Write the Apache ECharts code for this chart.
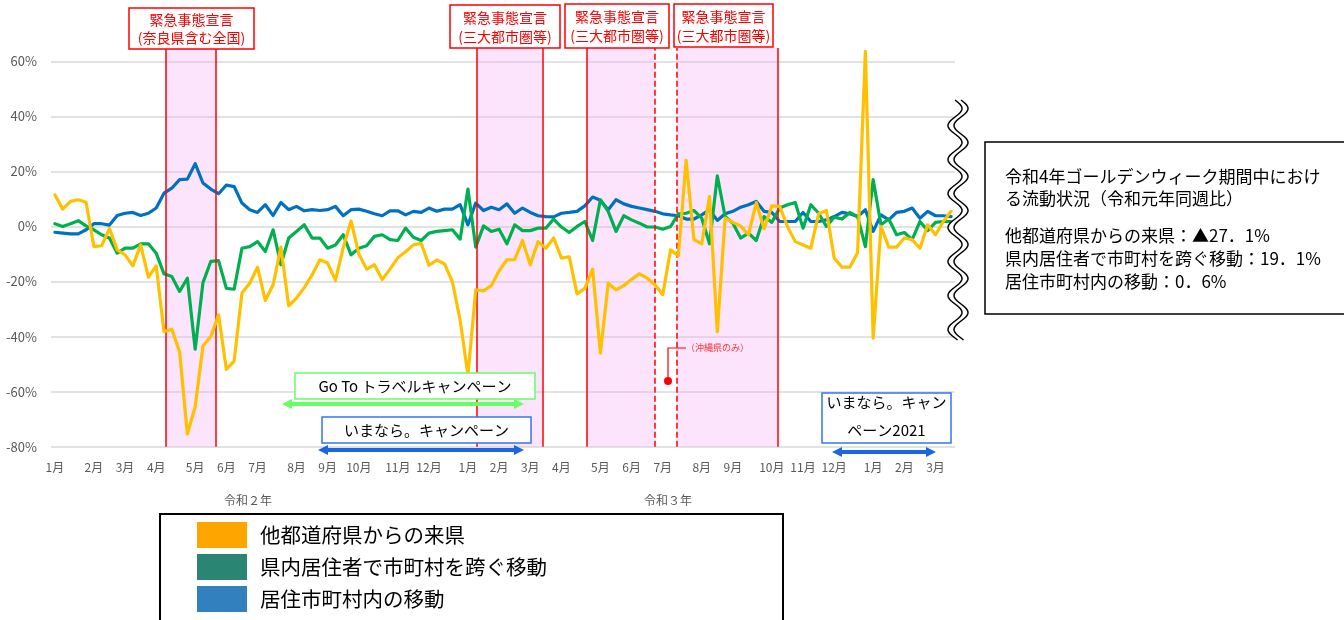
<!DOCTYPE html>
<html>
<head>
<meta charset="utf-8">
<script src="https://cdn.jsdelivr.net/npm/echarts@6/dist/echarts.min.js"></script>
<style>
  html, body { margin: 0; padding: 0; background: #fff; }
  #chart { width: 1344px; height: 620px; }
</style>
</head>
<body>
<div id="chart"></div>
<script>
const FONT = '"Noto Sans CJK JP", "Noto Sans", sans-serif';

// Weekly change against the same week of 2019 (%), Jan 2020 – Mar 2022
const fromOtherPrefs = [
  11.5, 6.3, 9.1, 9.7, 8.8, -7.3, -7.0, -0.8, -8.5, -10.3,
  -14.3, -6.7, -18.4, -14.3, -38.2, -37.3, -45.5, -75.4, -65.5, -43.4,
  -40.0, -32.1, -51.9, -48.9, -24.2, -20.6, -14.8, -26.9, -21.2, -7.5,
  -28.8, -26.0, -22.2, -17.6, -12.1, -13.3, -19.6, -7.6, 2.0, -10.0,
  -15.5, -13.9, -19.3, -15.5, -11.4, -9.2, -6.7, -6.1, -14.1, -12.2,
  -13.6, -20.0, -34.0, -54.0, -23.0, -23.4, -21.5, -16.1, -12.1, -12.0,
  -5.1, -13.9, -5.5, -7.9, -4.2, -11.5, -11.0, -24.5, -22.5, -15.5,
  -46.0, -20.6, -23.0, -21.5, -19.2, -17.2, -18.8, -21.2, -24.8, -8.5,
  -10.7, 24.0, -4.8, -6.3, 10.9, -38.2, 3.0, 1.5, 0.2, -3.0,
  8.7, -0.8, 7.5, 7.3, 0.0, -5.5, -6.7, -7.9, 4.6, 5.8,
  -11.5, -14.8, -14.8, -9.5, 63.6, -40.6, 0.0, -7.5, -7.5, -4.2,
  -4.8, -7.9, 0.6, -3.0, 1.8, 5.5
];
const acrossMunicipalities = [
  1.0, 0.0, 1.0, 2.1, 0.2, -1.2, -3.0, -4.2, -9.7, -7.9,
  -7.9, -6.3, -6.3, -9.7, -17.2, -18.2, -23.6, -18.8, -44.6, -20.4,
  -12.7, -12.4, -22.5, -22.8, -7.9, -7.3, -5.5, -9.1, -1.2, -13.9,
  -4.2, -1.8, 0.6, -4.2, -4.2, -7.9, -6.7, -3.0, -10.3, -7.9,
  -7.0, -3.6, -3.0, -4.8, -5.1, -0.6, -3.9, -5.1, -2.4, -1.8,
  -1.5, -1.2, -4.6, 13.6, -7.5, 0.2, -1.8, -1.0, -6.3, 0.6,
  -1.5, -1.5, -0.6, -0.6, 2.7, -0.2, -2.2, 0.0, 1.8, -5.1,
  9.7, 5.5, -1.8, 3.9, 2.4, 1.2, -0.2, -0.2, -1.0, 0.0,
  4.6, 4.8, 5.8, 3.0, -6.3, 18.4, 3.6, 1.2, -4.2, -2.4,
  -5.1, 3.6, 1.5, 6.7, 7.9, 8.7, -0.6, 7.9, 4.8, 0.0,
  3.4, 2.7, 5.1, 3.6, -7.3, 17.0, 0.6, 2.7, -3.0, -2.2,
  -4.8, 1.8, -1.5, 1.5, 1.8, 1.8
];
const withinMunicipality = [
  -2.1, -2.4, -2.7, -2.7, -1.2, 1.0, 1.0, 0.5, 4.0, 4.8,
  5.1, 4.0, 4.8, 6.7, 12.1, 13.9, 17.0, 17.2, 22.8, 15.8,
  13.6, 11.9, 15.0, 14.5, 8.5, 6.1, 5.1, 7.9, 4.0, 8.7,
  6.1, 7.3, 5.7, 6.1, 5.8, 6.1, 7.3, 3.9, 6.1, 6.3,
  5.5, 4.6, 3.9, 5.7, 5.7, 4.2, 5.5, 5.1, 6.7, 5.5,
  6.3, 6.3, 7.9, 0.6, 8.5, 5.8, 7.0, 6.1, 8.2, 4.8,
  6.7, 5.1, 3.9, 3.6, 3.5, 4.8, 5.1, 5.5, 7.5, 10.7,
  9.5, 6.1, 9.7, 8.2, 7.3, 6.7, 6.1, 5.5, 4.6, 4.2,
  3.9, 2.7, 2.7, 4.2, 6.0, 2.2, 4.6, 5.5, 7.0, 7.9,
  9.1, 5.5, 5.1, 1.8, 1.8, 1.8, 5.1, 1.8, 1.8, 2.4,
  3.6, 5.1, 4.6, 3.6, 6.1, -1.8, 4.2, 2.4, 5.1, 5.5,
  6.7, 3.0, 5.5, 3.9, 3.9, 3.6
];

const seriesNames = ['他都道府県からの来県', '県内居住者で市町村を跨ぐ移動', '居住市町村内の移動'];

// Week index at which each month label sits
const monthLabelWeeks = [0, 5, 9, 13, 18, 22, 26, 31, 35, 39, 44, 48,
                         53, 57, 61, 65, 70, 74, 78, 83, 87, 92, 96, 100,
                         105, 109, 113];
const monthLabels = ['1月', '2月', '3月', '4月', '5月', '6月', '7月', '8月', '9月', '10月', '11月', '12月',
                     '1月', '2月', '3月', '4月', '5月', '6月', '7月', '8月', '9月', '10月', '11月', '12月',
                     '1月', '2月', '3月'];
const yearLabels = ['令和２年', '令和３年'];
const yTicks = [-80, -60, -40, -20, 0, 20, 40, 60];

// State of emergency periods, in week units on the same scale as the data
const emergencyPeriods = [[14.2, 20.6], [54.1, 62.6], [68.2, 77.0], [79.8, 92.7]];
const okinawaOnly = [77.0, 79.8];

const lineColors = ['#FFC000', '#00B050', '#0070C0'];
const legendColors = ['#FFA500', '#2A8572', '#3380BF'];

const weeks = fromOtherPrefs.map((_, i) => 'W' + i);
const labelAt = {};
monthLabelWeeks.forEach((w, k) => { labelAt[w] = monthLabels[k]; });

const boundaries = [];
emergencyPeriods.forEach(p => { boundaries.push(p[0], p[1]); });

// --- annotation helpers -------------------------------------------------
function boxWithText(x, y, w, h, stroke, lines, lineYs, color, size) {
  const els = [{
    type: 'rect', z: 100,
    shape: { x: x, y: y, width: w, height: h },
    style: { fill: '#fff', stroke: stroke, lineWidth: 1.5 }
  }];
  lines.forEach((t, k) => {
    els.push({
      type: 'text', z: 101,
      style: {
        text: t, x: x + w / 2, y: lineYs[k], fill: color,
        fontSize: size, fontFamily: FONT,
        align: 'center', verticalAlign: 'middle',
        textAlign: 'center', textVerticalAlign: 'middle'
      }
    });
  });
  return els;
}

function doubleArrow(x1, x2, y, color) {
  const hl = 10, hw = 5;
  return [
    { type: 'line', z: 100, shape: { x1: x1 + hl - 1, y1: y, x2: x2 - hl + 1, y2: y },
      style: { stroke: color, lineWidth: 4 } },
    { type: 'polygon', z: 100, shape: { points: [[x1, y], [x1 + hl, y - hw], [x1 + hl, y + hw]] },
      style: { fill: color } },
    { type: 'polygon', z: 100, shape: { points: [[x2, y], [x2 - hl, y - hw], [x2 - hl, y + hw]] },
      style: { fill: color } }
  ];
}

function plainText(t, x, y, size, color, align) {
  return {
    type: 'text', z: 101,
    style: {
      text: t, x: x, y: y, fill: color, fontSize: size, fontFamily: FONT,
      align: align || 'left', verticalAlign: 'middle',
      textAlign: align || 'left', textVerticalAlign: 'middle'
    }
  };
}

// double wavy break line on the right edge of the plot
function waveBreak() {
  const top = 100, bottom = 340, period = 34, amp = 7;
  const left = [], right = [];
  for (let y = top; y <= bottom; y += 1) {
    const s = Math.sin((y - top) / period * 2 * Math.PI);
    left.push([955 + amp * s, y]);
    right.push([961 + amp * s, y]);
  }
  const fillPts = left.concat(right.slice().reverse());
  return [
    { type: 'polygon', z: 110, shape: { points: fillPts }, style: { fill: '#fff' } },
    { type: 'polyline', z: 111, shape: { points: left }, style: { stroke: '#000', lineWidth: 1.5, fill: null } },
    { type: 'polyline', z: 111, shape: { points: right }, style: { stroke: '#000', lineWidth: 1.5, fill: null } }
  ];
}

const graphics = [].concat(
  // state of emergency captions
  boxWithText(129, 8, 125, 41, '#FF0000', ['緊急事態宣言', '(奈良県含む全国)'], [20, 38], '#FF0000', 14),
  boxWithText(450, 5, 110, 43, '#FF0000', ['緊急事態宣言', '(三大都市圏等)'], [18, 37], '#FF0000', 14),
  boxWithText(565, 4, 104, 44, '#FF0000', ['緊急事態宣言', '(三大都市圏等)'], [17, 36], '#FF0000', 14),
  boxWithText(674, 4, 99, 43, '#FF0000', ['緊急事態宣言', '(三大都市圏等)'], [17, 36], '#FF0000', 14),
  // travel campaigns
  boxWithText(295, 373, 240, 26, '#66FF66', ['Go To トラベルキャンペーン'], [386], '#000', 15),
  doubleArrow(282, 524, 404, '#66FF66'),
  boxWithText(322, 417, 209, 26, '#3377EE', ['いまなら。キャンペーン'], [430], '#000', 15),
  doubleArrow(318, 524, 450, '#1A66E6'),
  boxWithText(822, 393, 129, 50, '#3377EE', ['いまなら。キャン', 'ペーン2021'], [402, 430], '#000', 15),
  doubleArrow(832, 936, 452, '#1A66E6'),
  // Okinawa-only marker
  [
    { type: 'polyline', z: 100, shape: { points: [[668, 381], [668, 348], [686, 348]] },
      style: { stroke: '#FF0000', lineWidth: 1.2, fill: null } },
    { type: 'circle', z: 100, shape: { cx: 668, cy: 381, r: 4 }, style: { fill: '#FF0000' } },
    plainText('（沖縄県のみ）', 686, 348, 9, '#FF3333')
  ],
  // era year labels
  [plainText(yearLabels[0], 248, 500, 12, '#595959', 'center'),
   plainText(yearLabels[1], 668, 500, 12, '#595959', 'center')],
  waveBreak(),
  // Golden Week summary box
  [
    { type: 'rect', z: 100, shape: { x: 985, y: 142, width: 380, height: 172 },
      style: { fill: '#fff', stroke: '#000', lineWidth: 1.5 } },
    plainText('令和4年ゴールデンウィーク期間中におけ', 1005, 177, 17, '#000'),
    plainText('る流動状況（令和元年同週比）', 1005, 199, 17, '#000'),
    plainText('他都道府県からの来県：▲27．1%', 1005, 236, 17, '#000'),
    plainText('県内居住者で市町村を跨ぐ移動：19．1%', 1005, 259, 17, '#000'),
    plainText('居住市町村内の移動：0．6%', 1005, 282, 17, '#000')
  ],
  // legend frame
  [{ type: 'rect', z: 100, shape: { x: 160, y: 514, width: 623, height: 130 },
     style: { fill: null, stroke: '#000', lineWidth: 2 } }]
);

const lineSeries = [fromOtherPrefs, acrossMunicipalities, withinMunicipality].map((vals, k) => ({
  name: seriesNames[k],
  type: 'line',
  xAxisIndex: 0, yAxisIndex: 0,
  data: vals,
  symbol: 'none',
  smooth: false,
  clip: false,
  z: 5 - k,
  lineStyle: { color: lineColors[k], width: 3.2, join: 'round', cap: 'round' },
  itemStyle: { color: lineColors[k] },
  emphasis: { disabled: true }
}));

const chart = echarts.init(document.getElementById('chart'), null, { renderer: 'canvas' });

chart.setOption({
  animation: false,
  textStyle: { fontFamily: FONT },
  grid: [
    { left: 51, right: 389, top: 61.3, bottom: 173.3 },
    { left: 51, right: 389, top: 48, bottom: 173.3 }
  ],
  xAxis: [
    {
      type: 'category', gridIndex: 0, data: weeks, boundaryGap: true,
      axisLine: { show: false }, axisTick: { show: false },
      axisLabel: {
        interval: (i) => labelAt[i] !== undefined,
        formatter: (v, i) => labelAt[i] || '',
        color: '#595959', fontSize: 12, margin: 15, fontFamily: FONT
      }
    },
    { type: 'value', gridIndex: 1, min: -0.5, max: weeks.length - 0.5, show: false }
  ],
  yAxis: [
    {
      type: 'value', gridIndex: 0, min: yTicks[0], max: yTicks[yTicks.length - 1], interval: 20,
      axisLine: { show: false }, axisTick: { show: false },
      axisLabel: { formatter: '{value}%', color: '#595959', fontSize: 13, margin: 14, fontFamily: FONT },
      splitLine: { lineStyle: { color: '#D9D9D9', width: 1.5 } }
    },
    { type: 'value', gridIndex: 1, min: 0, max: 1, show: false }
  ],
  legend: {
    left: 197, top: 522, orient: 'vertical', icon: 'rect',
    itemWidth: 50, itemHeight: 26, itemGap: 6, padding: 0,
    selectedMode: false,
    textStyle: { fontSize: 20.5, color: '#000', fontFamily: FONT, padding: [4, 0, 0, 8] },
    data: seriesNames.map((n, k) => ({ name: n, itemStyle: { color: legendColors[k] } }))
  },
  series: [
    {
      name: 'emergency', type: 'line', xAxisIndex: 1, yAxisIndex: 1, data: [],
      silent: true, z: 1,
      markArea: {
        silent: true,
        itemStyle: { color: 'rgba(245,165,245,0.3)' },
        data: emergencyPeriods.map(p => [{ xAxis: p[0] }, { xAxis: p[1] }])
      },
      markLine: {
        silent: true, symbol: 'none', label: { show: false },
        data: boundaries.map(x => ({
          xAxis: x,
          lineStyle: { color: '#FF0000', width: 1.5, type: okinawaOnly.includes(x) ? 'dashed' : 'solid' }
        }))
      }
    }
  ].concat(lineSeries),
  graphic: { elements: graphics }
});
</script>
</body>
</html>
